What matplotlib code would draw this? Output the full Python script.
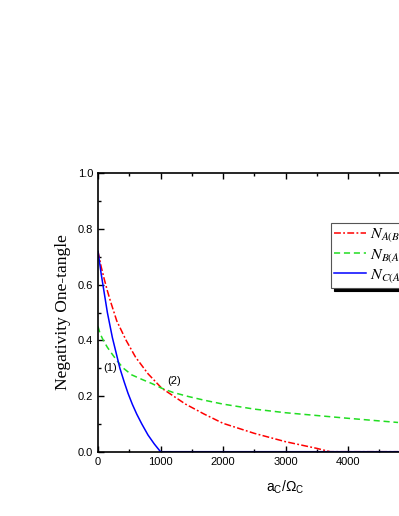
import numpy as np
import matplotlib
matplotlib.use("Agg")
import matplotlib.pyplot as plt
from matplotlib.font_manager import FontProperties
from matplotlib.ticker import MultipleLocator, FormatStrFormatter

plt.rcParams['mathtext.fontset'] = 'custom'
plt.rcParams['mathtext.rm'] = 'Liberation Sans'
plt.rcParams['mathtext.it'] = 'Liberation Sans:italic'

# Data
x_A = [0, 50, 100, 150, 200, 300, 450, 600, 800, 1020, 1400, 1700, 2000, 2500, 3000, 3500, 3714, 4800]
y_A = [0.72, 0.665, 0.62, 0.578, 0.54, 0.47, 0.40, 0.34, 0.28, 0.228, 0.171, 0.135, 0.102, 0.066, 0.036, 0.012, 0.0, 0.0]

x_B = [0, 32, 85, 150, 219, 300, 406, 540, 700, 860, 1020, 1200, 1450, 1700, 2000, 2500, 3000, 3500, 4000, 4800]
y_B = [0.45, 0.425, 0.40, 0.375, 0.353, 0.328, 0.30, 0.276, 0.26, 0.245, 0.228, 0.213, 0.198, 0.185, 0.171, 0.153, 0.140, 0.13, 0.12, 0.105]

x_C = [0, 25, 50, 100, 150, 230, 290, 350, 420, 480, 550, 620, 700, 800, 900, 1000, 4800]
y_C = [0.72, 0.68, 0.64, 0.57, 0.50, 0.41, 0.355, 0.30, 0.25, 0.21, 0.17, 0.135, 0.10, 0.06, 0.028, 0.0, 0.0]

labels = [r'$N_{A(BC)}$', r'$N_{B(AC)}$', r'$N_{C(AB)}$']
colors = ['red', '#22dd22', 'blue']

fig = plt.figure(figsize=(3.99, 5.16), dpi=100)
ax = fig.add_axes([0.2456, 0.1246, 0.94, 0.5395])

ax.plot(x_A, y_A, color=colors[0], lw=1.1, linestyle=(0, (4.5, 1.5, 1.2, 1.5)), label=labels[0])
ax.plot(x_B, y_B, color=colors[1], lw=1.1, linestyle=(0, (4, 2.5)), label=labels[1])
ax.plot(x_C, y_C, color=colors[2], lw=1.1, linestyle='-', label=labels[2])

ax.set_xlim(0, 6000)
ax.set_ylim(0, 1.0)
ax.xaxis.set_major_locator(MultipleLocator(1000))
ax.xaxis.set_minor_locator(MultipleLocator(500))
ax.yaxis.set_major_locator(MultipleLocator(0.2))
ax.yaxis.set_minor_locator(MultipleLocator(0.1))
ax.yaxis.set_major_formatter(FormatStrFormatter('%.1f'))
ax.tick_params(which='both', direction='in', top=True, right=True,
               labelsize=8, width=1.0)
ax.tick_params(which='major', length=4)
ax.tick_params(which='minor', length=2.5)
for lab in ax.get_xticklabels() + ax.get_yticklabels():
    lab.set_fontfamily('Liberation Sans')
for s in ax.spines.values():
    s.set_linewidth(1.2)

ax.set_ylabel('Negativity One-tangle', fontfamily='Liberation Serif', fontsize=12.5, labelpad=5)
ax.set_xlabel(r'a$_\mathrm{C}$/$\Omega_\mathrm{C}$', fontfamily='Liberation Sans', fontsize=10, labelpad=9)

ax.text(190, 0.30, '(1)', fontfamily='Liberation Sans', fontsize=8, ha='center', va='center')
ax.text(1222, 0.255, '(2)', fontfamily='Liberation Sans', fontsize=8, ha='center', va='center')

leg = ax.legend(loc='upper left', bbox_to_anchor=(0.621, 0.8215), borderaxespad=0,
                prop=FontProperties(size=11.5, math_fontfamily='stix'),
                fancybox=False, shadow={'color': 'black', 'alpha': 1},
                handlelength=2.0, handletextpad=0.25, borderpad=0.2, labelspacing=0.15,
                edgecolor='#555555', framealpha=1)
leg.get_frame().set_linewidth(0.8)

fig.savefig('out.png', dpi=100)
